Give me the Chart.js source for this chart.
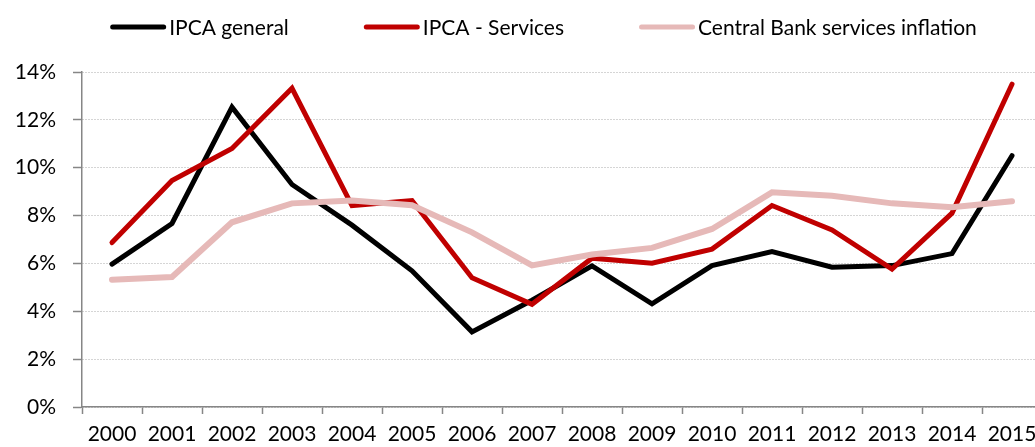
<!DOCTYPE html>
<html><head><meta charset="utf-8">
<script src="https://cdn.jsdelivr.net/npm/chart.js@4.4.0/dist/chart.umd.min.js"></script>
<style>
html,body{margin:0;padding:0;overflow:hidden;background:#fff;}
#wrap{position:relative;width:1050px;height:447px;}
</style></head><body>
<div id="wrap"><canvas id="c"></canvas></div>
<script>
const years = ['2000','2001','2002','2003','2004','2005','2006','2007','2008','2009','2010','2011','2012','2013','2014','2015'];
const ipcaGeneral = [5.97, 7.67, 12.53, 9.30, 7.60, 5.69, 3.14, 4.46, 5.90, 4.31, 5.91, 6.50, 5.84, 5.91, 6.41, 10.5];
const ipcaServices = [6.87, 9.46, 10.80, 13.32, 8.42, 8.63, 5.40, 4.29, 6.22, 6.01, 6.60, 8.42, 7.40, 5.76, 8.10, 13.49];
const cbServices = [5.32, 5.43, 7.72, 8.51, 8.63, 8.43, 7.30, 5.92, 6.37, 6.65, 7.44, 8.97, 8.83, 8.51, 8.35, 8.60];
const yTicks = [0, 2, 4, 6, 8, 10, 12, 14];
const seriesNames = ['IPCA general', 'IPCA - Services', 'Central Bank services inflation'];
const seriesColors = ['#000000', '#C00000', '#E6B9B8'];
const FONT = 'Lato, "Open Sans", sans-serif';
const FS = 21;

const topLegend = {
  id: 'topLegend',
  afterDraw(chart) {
    const ctx = chart.ctx;
    ctx.save();
    ctx.font = FS + 'px ' + FONT;
    const lineLen = 56, gapText = 3, gapItem = 75, y = 27;
    const items = chart.data.datasets.map(ds => ({label: ds.label, color: ds.borderColor, w: ctx.measureText(ds.label).width}));
    const total = items.reduce((s, it) => s + lineLen + gapText + it.w, 0) + gapItem * (items.length - 1);
    let x = 543.5 - total / 2;
    items.forEach(it => {
      ctx.beginPath();
      ctx.strokeStyle = it.color;
      ctx.lineWidth = 5;
      ctx.lineCap = 'round';
      ctx.moveTo(x + 2.5, y);
      ctx.lineTo(x + lineLen - 2.5, y);
      ctx.stroke();
      x += lineLen + gapText;
      ctx.fillStyle = '#000';
      ctx.textBaseline = 'middle';
      ctx.textAlign = 'left';
      ctx.fillText(it.label, x, y + 1);
      x += it.w + gapItem;
    });
    ctx.restore();
  }
};

const mk = (i, data, width, order) => ({
  label: seriesNames[i], data, borderColor: seriesColors[i], backgroundColor: seriesColors[i],
  borderWidth: width, pointRadius: 0, pointHoverRadius: 0, tension: 0,
  borderCapStyle: 'round', borderJoinStyle: 'miter', order
});

new Chart(document.getElementById('c'), {
  type: 'line',
  data: {
    labels: years,
    datasets: [mk(0, ipcaGeneral, 5, 3), mk(1, ipcaServices, 5, 2), mk(2, cbServices, 6, 1)]
  },
  plugins: [topLegend],
  options: {
    responsive: true, maintainAspectRatio: false, animation: false,
    layout: {padding: {top: 72, right: 8, left: 0, bottom: 0}},
    plugins: {legend: {display: false}, tooltip: {enabled: false}},
    scales: {
      x: {
        offset: true,
        grid: {offset: true, drawOnChartArea: false, drawTicks: true, tickLength: 7, tickColor: '#868686', tickWidth: 1.5},
        border: {display: true, color: '#868686', width: 1.5},
        ticks: {color: '#000', font: {family: FONT, size: FS}, padding: 8, maxRotation: 0, autoSkip: false},
        afterFit: s => { s.height = 40; }
      },
      y: {
        min: 0, max: 14,
        afterBuildTicks: s => { s.ticks = yTicks.map(v => ({value: v})); },
        grid: {color: '#ABABAB', lineWidth: 1, drawTicks: true, tickLength: 9, tickColor: '#868686', tickWidth: 1.5, tickBorderDash: [100, 0]},
        border: {display: true, color: '#868686', width: 1.5, dash: [1, 2]},
        ticks: {color: '#000', font: {family: FONT, size: FS}, padding: 17, callback: v => v + '%'},
        afterFit: s => { s.width = 82; }
      }
    }
  }
});
</script>
</body></html>
